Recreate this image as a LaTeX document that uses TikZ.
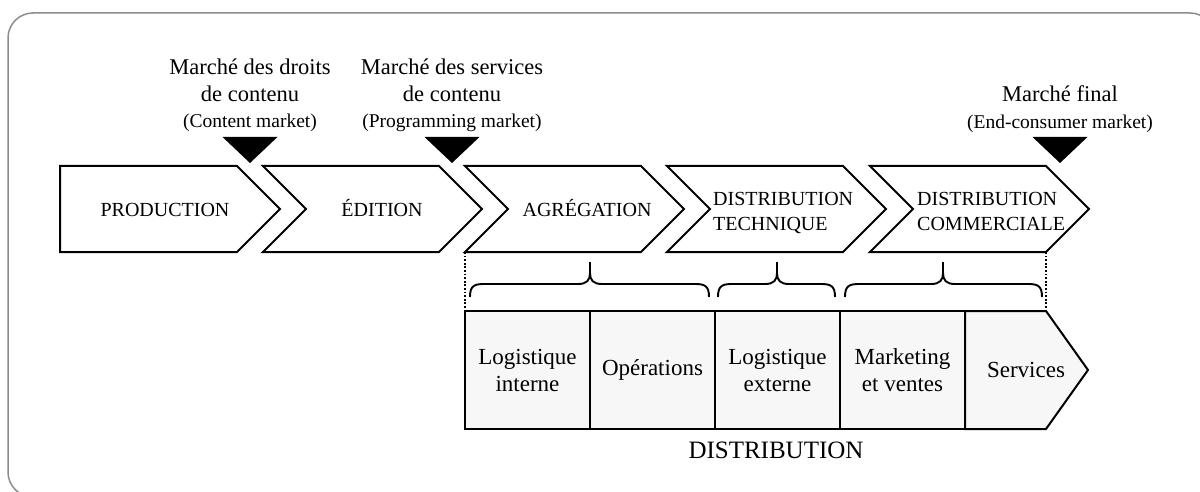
\documentclass[tikz,border=0pt]{standalone}
\usepackage{fontspec}
\setmainfont{Liberation Serif}
\usetikzlibrary{positioning}

\begin{document}
\begin{tikzpicture}[x=1pt, y=-1pt,
    frame/.style={draw=black!45, line width=1.5pt, rounded corners=25pt},
    chev/.style={draw, line width=2pt, fill=white, line join=miter},
    stage/.style={font=\fontsize{20}{25}\selectfont, inner sep=0pt, anchor=base},
    stagetwo/.style={font=\fontsize{20}{25}\selectfont, inner sep=0pt, anchor=north west, align=left},
    mkt/.style={font=\fontsize{22.5}{26.5}\selectfont, inner sep=0pt, anchor=north, align=center},
    marker/.style={fill=black},
    cell/.style={draw, line width=2pt, fill=black!3, minimum width=125pt, minimum height=118pt,
                 inner sep=0pt, outer sep=0pt, align=center, font=\fontsize{23}{27}\selectfont},
    brace/.style={draw, line width=1.9pt},
    link/.style={line width=1.8pt, dash pattern=on 1.8pt off 1.8pt}
]
  \useasboundingbox (0,0) rectangle (1200,492);
  \clip (0,0) rectangle (1200,492);
  % outer frame
  \draw[frame] (8,13) rectangle (1215,497);
  % value chain stages
  \draw[chev] (60,166) -- (237,166) -- (280,209) -- (237,252) -- (60,252) -- cycle;
  \foreach \x in {263,465,667,870}
    \draw[chev] (\x,166) -- ++(176,0) -- ++(43,43) -- ++(-43,43) -- ++(-176,0) -- ++(43,-43) -- cycle;
  \node[stage] (prod) at (165,216) {PRODUCTION};
  \node[stage] (edit) at (382,216) {ÉDITION};
  \node[stage] (aggr) at (587,216) {AGRÉGATION};
  \node[stagetwo] (dtech) at (713,192) {DISTRIBUTION\\TECHNIQUE};
  \node[stagetwo] (dcomm) at (917,192) {DISTRIBUTION\\COMMERCIALE};
  \coordinate (aggrSW) at (465,252);
  \coordinate (dcommSE) at (1046,252);
  % market markers
  \fill[marker] (222.5,137) -- (277.5,137) -- (250,163) -- cycle;
  \fill[marker] (424.5,137) -- (479.5,137) -- (452,163) -- cycle;
  \fill[marker] (1032.5,137) -- (1087.5,137) -- (1060,163) -- cycle;
  \node[mkt] (mrights) at (250,59) {Marché des droits\\de contenu\\{\fontsize{19.5}{26.5}\selectfont (Content market)}};
  \node[mkt] (mserv) at (452,59) {Marché des services\\de contenu\\{\fontsize{19.5}{26.5}\selectfont (Programming market)}};
  \node[mkt] (mfinal) at (1060,85.5) {Marché final\\{\fontsize{19.5}{26.5}\selectfont (End-consumer market)}};
  % distribution activities
  \draw[cell] (965,311) -- (1046,311) -- (1088,370) -- (1046,429) -- (965,429) -- cycle;
  \node[cell] (login) at (527.5,370) {Logistique\\interne};
  \node[cell] (ops) at (652.5,370) {Opérations};
  \node[cell] (logext) at (777.5,370) {Logistique\\externe};
  \node[cell] (mktv) at (902.5,370) {Marketing\\et ventes};
  \node[font=\fontsize{23}{27}\selectfont, inner sep=0pt] (serv) at (1026,370) {Services};
  \coordinate (servNE) at (1046,311);
  \node[font=\fontsize{25}{29}\selectfont, inner sep=0pt, anchor=base] (dist) at (776,458) {DISTRIBUTION};
  % dotted guides
  \draw[link] (aggrSW) -- (login.north west);
  \draw[link] (dcommSE) -- (servNE);
  % braces
  \foreach \a/\m/\b in {470/590/709, 718/777/835, 845/943/1042}
    \draw[brace] (\a,297) .. controls (\a,286) and (\a+4,284) .. (\a+14,284) -- (\m-12,284)
      .. controls (\m-3,284) and (\m,280) .. (\m,273) -- (\m,262)
      (\m,273) .. controls (\m,280) and (\m+3,284) .. (\m+12,284) -- (\b-14,284)
      .. controls (\b-4,284) and (\b,286) .. (\b,297);
\end{tikzpicture}
\end{document}
